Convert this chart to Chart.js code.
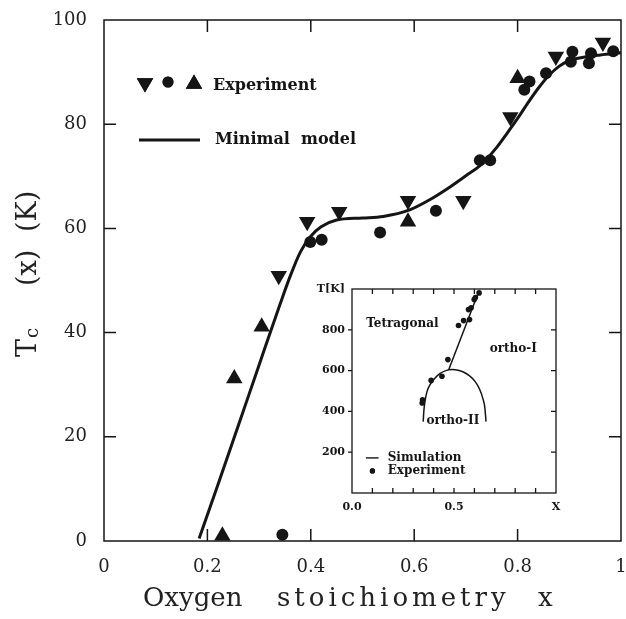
<!DOCTYPE html>
<html lang="en">
<head>
<meta charset="UTF-8">
<title>Tc(x) vs oxygen stoichiometry</title>
<script src="https://cdn.jsdelivr.net/npm/chart.js"></script>
<style>
  body { margin: 0; background: #fff; }
  #wrap { position: relative; width: 626px; height: 619px; }
  #main { position: absolute; left: 0; top: 0; }
  #inset { position: absolute; left: 300px; top: 280px; }
</style>
</head>
<body>
<div id="wrap">
  <canvas id="main" width="626" height="619"></canvas>
  <canvas id="inset" width="262" height="240"></canvas>
</div>
<script>
// ---- main plot data ----
const modelX  = [0.184, 0.22, 0.26, 0.30, 0.34, 0.36, 0.38, 0.40, 0.42, 0.45, 0.50, 0.54, 0.59, 0.63, 0.67, 0.70, 0.73, 0.76, 0.78, 0.80, 0.82, 0.84, 0.86, 0.88, 0.90, 0.93, 0.96, 1.00];
const modelTc = [0.5, 10.7, 22.2, 33.8, 45.3, 50.8, 55.5, 58.5, 60.3, 61.6, 62.0, 62.3, 63.5, 65.5, 68.0, 70.1, 72.3, 75.6, 78.3, 81.1, 84.1, 86.9, 89.3, 91.1, 92.2, 92.9, 93.3, 93.7];

const downX  = [0.338, 0.393, 0.455, 0.588, 0.695, 0.786, 0.874, 0.965];
const downTc = [50.9, 61.3, 63.2, 65.3, 65.3, 81.4, 93.0, 95.7];

const upX  = [0.229, 0.252, 0.305, 0.588, 0.800];
const upTc = [1.0, 31.2, 41.1, 61.3, 88.8];

const circX  = [0.345, 0.399, 0.421, 0.534, 0.642, 0.727, 0.747, 0.813, 0.823, 0.855, 0.903, 0.906, 0.938, 0.942, 0.985];
const circTc = [1.2, 57.4, 57.8, 59.2, 63.4, 73.1, 73.1, 86.6, 88.2, 89.8, 92.0, 93.9, 91.7, 93.6, 94.0];

const xTickVals   = [0, 0.2, 0.4, 0.6, 0.8, 1];
const xTickLabels = ['0', '0.2', '0.4', '0.6', '0.8', '1'];
const yTickVals   = [0, 20, 40, 60, 80, 100];

// ---- inset data ----
const expX = [0.344, 0.346, 0.388, 0.441, 0.470, 0.522, 0.547, 0.576, 0.571, 0.584, 0.599, 0.605, 0.623];
const expT = [441, 457, 552, 572, 654, 821, 845, 850, 899, 908, 948, 958, 981];

const orthoIX = [0.474, 0.622];
const orthoIT = [604, 989];

const domeX = [0.349, 0.352, 0.358, 0.368, 0.385, 0.40, 0.43, 0.46, 0.49, 0.52, 0.546, 0.575, 0.603, 0.625, 0.641, 0.651, 0.657];
const domeT = [350, 400, 450, 498, 535, 555, 585, 600, 605, 602, 593, 575, 547, 510, 465, 420, 350];

const insetXTickVals   = [0, 0.5, 1];
const insetXTickLabels = ['0.0', '0.5', 'X'];
const insetYTickVals   = [200, 400, 600, 800, 1000];
const insetYTickLabels = ['200', '400', '600', '800', 'T[K]'];

const INK = '#151515';
const pts = (xs, ys) => xs.map((x, i) => ({ x: x, y: ys[i] }));

function pickLabel(vals, labels, v) {
  const i = vals.findIndex(t => Math.abs(t - v) < 1e-6);
  return i >= 0 ? labels[i] : '';
}

// keep chart area where layout.padding puts it (no extra room for edge labels)
function fixX(h) {
  return s => { s.height = h; s.paddingLeft = 0; s.paddingRight = 0; };
}
function fixY(w) {
  return s => { s.width = w; s.paddingTop = 0; s.paddingBottom = 0; };
}

// frame, inward ticks, axis titles and legend of the main plot
const mainDecor = {
  id: 'mainDecor',
  afterDatasetsDraw(chart) {
    const ctx = chart.ctx;
    const a = chart.chartArea;
    const xs = chart.scales.x, ys = chart.scales.y;
    ctx.save();
    ctx.strokeStyle = INK;
    ctx.lineWidth = 1.5;
    ctx.strokeRect(a.left, a.top, a.right - a.left, a.bottom - a.top);
    ctx.beginPath();
    [0.2, 0.4, 0.6, 0.8].forEach(v => {
      const px = xs.getPixelForValue(v);
      ctx.moveTo(px, a.bottom); ctx.lineTo(px, a.bottom - 12);
      ctx.moveTo(px, a.top); ctx.lineTo(px, a.top + 12);
    });
    [20, 40, 60, 80].forEach(v => {
      const py = ys.getPixelForValue(v);
      ctx.moveTo(a.left, py); ctx.lineTo(a.left + 12, py);
      ctx.moveTo(a.right, py); ctx.lineTo(a.right - 12, py);
    });
    ctx.stroke();

    // legend
    ctx.fillStyle = INK;
    Chart.helpers.drawPoint(ctx, { pointStyle: 'triangle', rotation: 180, radius: 9.5, borderWidth: 0 }, 145, 83);
    ctx.fill();
    Chart.helpers.drawPoint(ctx, { pointStyle: 'circle', radius: 5.5, borderWidth: 0 }, 168, 82);
    ctx.fill();
    Chart.helpers.drawPoint(ctx, { pointStyle: 'triangle', rotation: 0, radius: 9.5, borderWidth: 0 }, 194, 84);
    ctx.fill();
    ctx.lineWidth = 3;
    ctx.beginPath();
    ctx.moveTo(139, 140); ctx.lineTo(200, 140);
    ctx.stroke();
    ctx.font = 'bold 16px "DejaVu Serif"';
    ctx.textBaseline = 'alphabetic';
    ctx.textAlign = 'left';
    ctx.fillText('Experiment', 213, 90);
    ctx.fillText('Minimal  model', 215, 144);

    // x title
    ctx.fillStyle = '#222';
    ctx.font = '26px "DejaVu Serif"';
    ctx.fillText('Oxygen', 143, 606);
    ctx.letterSpacing = '4px';
    ctx.fillText('stoichiometry', 277, 606);
    ctx.letterSpacing = '0px';
    ctx.fillText('x', 538, 606);

    // y title: T_c (x) (K), rotated
    ctx.translate(36, 357);
    ctx.rotate(-Math.PI / 2);
    ctx.font = '27px "DejaVu Serif"';
    ctx.fillText('T', 0, 0);
    ctx.font = '18px "DejaVu Serif"';
    ctx.fillText('c', 19, 2);
    ctx.font = '27px "DejaVu Serif"';
    ctx.fillText('(x)', 71, 0);
    ctx.fillText('(K)', 125, 0);
    ctx.restore();
  }
};

new Chart(document.getElementById('main'), {
  type: 'line',
  data: {
    datasets: [
      {
        label: 'Minimal model',
        data: pts(modelX, modelTc),
        borderColor: INK,
        borderWidth: 3,
        pointRadius: 0,
        cubicInterpolationMode: 'monotone',
        fill: false
      },
      {
        label: 'Experiment (down)',
        data: pts(downX, downTc),
        showLine: false,
        pointStyle: 'triangle',
        rotation: 180,
        pointRadius: 9.5,
        pointBorderWidth: 0,
        pointBackgroundColor: INK,
        clip: false
      },
      {
        label: 'Experiment (up)',
        data: pts(upX, upTc),
        showLine: false,
        pointStyle: 'triangle',
        pointRadius: 9.5,
        pointBorderWidth: 0,
        pointBackgroundColor: INK,
        clip: false
      },
      {
        label: 'Experiment (circle)',
        data: pts(circX, circTc),
        showLine: false,
        pointStyle: 'circle',
        pointRadius: 6,
        pointBorderWidth: 0,
        pointBackgroundColor: INK,
        clip: false
      }
    ]
  },
  options: {
    responsive: false,
    devicePixelRatio: 1,
    animation: false,
    layout: { autoPadding: false, padding: { top: 20, right: 5, left: 0, bottom: 0 } },
    plugins: { legend: { display: false }, tooltip: { enabled: false } },
    scales: {
      x: {
        type: 'linear',
        min: 0, max: 1,
        afterBuildTicks: s => { s.ticks = xTickVals.map(v => ({ value: v })); },
        afterFit: fixX(78),
        grid: { display: false, drawTicks: false },
        border: { display: false },
        ticks: {
          autoSkip: false, maxRotation: 0, padding: 16,
          color: '#222',
          font: { family: 'DejaVu Serif', size: 18 },
          callback: v => pickLabel(xTickVals, xTickLabels, v)
        }
      },
      y: {
        min: 0, max: 100,
        afterBuildTicks: s => { s.ticks = yTickVals.map(v => ({ value: v })); },
        afterFit: fixY(104),
        grid: { display: false, drawTicks: false },
        border: { display: false },
        ticks: {
          autoSkip: false, padding: 17,
          color: '#222',
          font: { family: 'DejaVu Serif', size: 18 }
        }
      }
    }
  },
  plugins: [mainDecor]
});

// frame, ticks and labels of the inset
const insetDecor = {
  id: 'insetDecor',
  afterDatasetsDraw(chart) {
    const ctx = chart.ctx;
    const a = chart.chartArea;
    const xs = chart.scales.x, ys = chart.scales.y;
    ctx.save();
    ctx.strokeStyle = INK;
    ctx.lineWidth = 1.3;
    ctx.strokeRect(a.left, a.top, a.right - a.left, a.bottom - a.top);
    ctx.beginPath();
    for (let k = 1; k < 10; k++) {
      const px = xs.getPixelForValue(k / 10);
      ctx.moveTo(px, a.bottom); ctx.lineTo(px, a.bottom - 5);
      ctx.moveTo(px, a.top); ctx.lineTo(px, a.top + 5);
    }
    [200, 400, 600, 800].forEach(v => {
      const py = ys.getPixelForValue(v);
      ctx.moveTo(a.left - 4, py); ctx.lineTo(a.left, py);
      ctx.moveTo(a.right, py); ctx.lineTo(a.right - 5, py);
    });
    ctx.stroke();

    ctx.fillStyle = INK;
    ctx.font = 'bold 12px "DejaVu Serif"';
    ctx.textAlign = 'left';
    ctx.textBaseline = 'alphabetic';
    const X = v => xs.getPixelForValue(v), Y = v => ys.getPixelForValue(v);
    ctx.fillText('Tetragonal', X(0.07), Y(816));
    ctx.fillText('ortho-I', X(0.675), Y(693));
    ctx.fillText('ortho-II', X(0.365), Y(339));
    ctx.lineWidth = 1.4;
    ctx.beginPath();
    ctx.moveTo(X(0.068), Y(172)); ctx.lineTo(X(0.13), Y(172));
    ctx.stroke();
    ctx.fillText('Simulation', X(0.175), Y(158));
    Chart.helpers.drawPoint(ctx, { pointStyle: 'circle', radius: 2.6, borderWidth: 0 }, X(0.1), Y(108));
    ctx.fill();
    ctx.fillText('Experiment', X(0.175), Y(94));
    ctx.restore();
  }
};

new Chart(document.getElementById('inset'), {
  type: 'line',
  data: {
    datasets: [
      {
        label: 'Simulation ortho-I',
        data: pts(orthoIX, orthoIT),
        borderColor: INK,
        borderWidth: 1.5,
        pointRadius: 0
      },
      {
        label: 'Simulation ortho-II',
        data: pts(domeX, domeT),
        borderColor: INK,
        borderWidth: 1.5,
        pointRadius: 0,
        cubicInterpolationMode: 'monotone'
      },
      {
        label: 'Experiment',
        data: pts(expX, expT),
        showLine: false,
        pointRadius: 2.8,
        pointBorderWidth: 0,
        pointBackgroundColor: INK
      }
    ]
  },
  options: {
    responsive: false,
    devicePixelRatio: 1,
    animation: false,
    layout: { autoPadding: false, padding: { top: 9, right: 6, left: 0, bottom: 0 } },
    plugins: { legend: { display: false }, tooltip: { enabled: false } },
    scales: {
      x: {
        type: 'linear',
        min: 0, max: 1,
        afterBuildTicks: s => { s.ticks = insetXTickVals.map(v => ({ value: v })); },
        afterFit: fixX(27),
        grid: { display: false, drawTicks: false },
        border: { display: false },
        ticks: {
          autoSkip: false, maxRotation: 0, padding: 8,
          color: INK,
          font: { family: 'DejaVu Serif', size: 11, weight: 'bold' },
          callback: v => pickLabel(insetXTickVals, insetXTickLabels, v)
        }
      },
      y: {
        min: 0, max: 1000,
        afterBuildTicks: s => { s.ticks = insetYTickVals.map(v => ({ value: v })); },
        afterFit: fixY(52),
        grid: { display: false, drawTicks: false },
        border: { display: false },
        ticks: {
          autoSkip: false, padding: 7,
          color: INK,
          font: { family: 'DejaVu Serif', size: 11, weight: 'bold' },
          callback: v => pickLabel(insetYTickVals, insetYTickLabels, v)
        }
      }
    }
  },
  plugins: [insetDecor]
});
</script>
</body>
</html>
